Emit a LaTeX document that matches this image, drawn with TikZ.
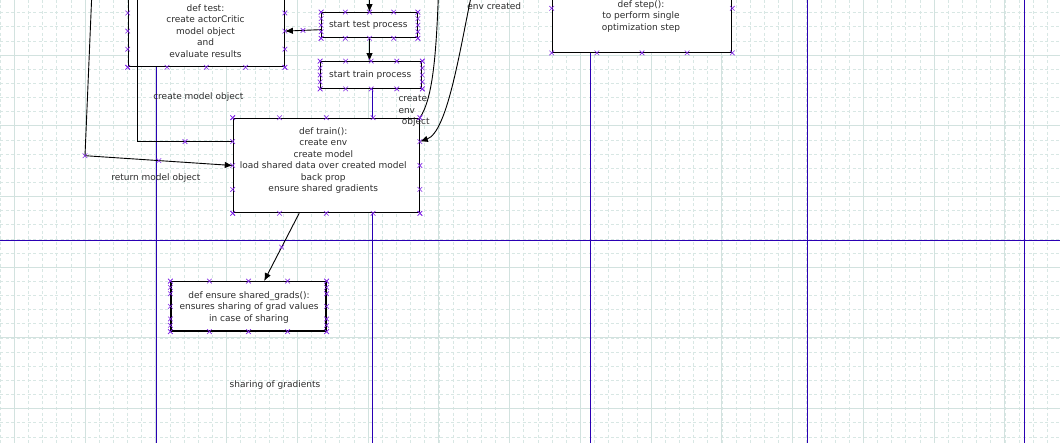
\documentclass[tikz,border=0pt]{standalone}
\usepackage{fontspec}
\setmainfont{DejaVu Sans}
\usetikzlibrary{arrows.meta,calc}
\definecolor{gridmaj}{RGB}{210,226,223}
\definecolor{gridmin}{RGB}{216,231,228}
\definecolor{life}{RGB}{42,0,180}
\definecolor{cp}{RGB}{130,40,230}
\definecolor{ink}{RGB}{45,45,45}

% connection-point marks along one edge (quarter points)
\newcommand\edgemarks[2]{\foreach \t in {0,0.25,0.5,0.75,1}{\pic at ($(#1)!\t!(#2)$) {cpmark};}}

\begin{document}
\begin{tikzpicture}[x=1pt,y=-1pt,
  box/.style={draw=black,fill=white,line width=1.2pt,inner sep=0pt},
  txt/.style={font=\fontsize{9}{11.4}\selectfont,text=ink,align=center,inner sep=0pt},
  conn/.style={black,line width=0.9pt},
  arr/.style={conn,-{Latex[length=8pt,width=6.5pt]}},
  lifeline/.style={draw=life,line width=1pt},
  gmaj/.style={draw=gridmaj,line width=0.8pt},
  gmin/.style={draw=gridmin,line width=0.6pt,dash pattern=on 3pt off 2.5pt},
  cpmark/.pic={\draw[cp,line width=0.6pt] (-2.3,-2.3)--(2.3,2.3) (-2.3,2.3)--(2.3,-2.3);}
]
\useasboundingbox (0,0) rectangle (1060,443);
\fill[white] (0,0) rectangle (1060,443);

% background grid
\foreach \i in {-1,...,75} \draw[gmin] ({14.3+14.15*\i},0) -- ++(0,443);
\foreach \j in {-1,...,31} \draw[gmin] (0,{12.6+14.14*\j}) -- ++(1060,0);
\foreach \i in {0,...,15} \draw[gmaj] ({14.3+70.75*\i},0) -- ++(0,443);
\foreach \j in {-1,...,6} \draw[gmaj] (0,{55+70.7*\j}) -- ++(1060,0);

% box positions (drawn after the lifelines)
\path
  node[box,draw=none,fill=none,minimum width=156pt,minimum height=71.2pt] (test) at (206.3,31.1) {}
  node[box,draw=none,fill=none,minimum width=101pt,minimum height=26.6pt] (starttrain) at (371.2,75) {}
  node[box,draw=none,fill=none,minimum width=186pt,minimum height=94.4pt] (train) at (326.3,165.5) {}
  node[box,draw=none,fill=none,minimum width=179.4pt,minimum height=88pt] (step) at (642,8.3) {};

% lifelines and lane borders
\coordinate (l1) at (156.5,443);
\coordinate (l2) at (372.5,443);
\coordinate (l3) at (590.5,443);
\coordinate (l4t) at (807.2,0);
\coordinate (l4b) at (807.2,443);
\coordinate (l5t) at (1024.5,0);
\coordinate (l5b) at (1024.5,443);
\coordinate (hl) at (0,240.5);
\coordinate (hr) at (1060,240.5);
\draw[lifeline] (l4t) -- (l4b);
\draw[lifeline] (l5t) -- (l5b);
\draw[lifeline] (hl) -- (hr);
\draw[lifeline] (test.south -| l1) -- (l1);
\draw[lifeline] (step.south -| l3) -- (l3);
\draw[lifeline] (starttrain.south -| l2) -- (l2);

% boxes
\node[box,minimum width=156pt,minimum height=71.2pt] (testbox) at (test) {};
\node[box,minimum width=95.6pt,minimum height=25pt] (starttest) at (369.5,25.2) {};
\node[box,minimum width=101pt,minimum height=26.6pt] (starttrainbox) at (starttrain) {};
\node[box,minimum width=186pt,minimum height=94.4pt] (trainbox) at (train) {};
\node[box,minimum width=179.4pt,minimum height=88pt] (stepbox) at (step) {};
\node[box,minimum width=155pt,minimum height=49.3pt] (ensure) at (248.5,306.35) {};

% box texts
\node[txt] (testtxt) at (205.5,31) {def test:\\create actorCritic\\model object\\and\\evaluate results};
\node[txt] (starttesttxt) at (368.3,25) {start test process};
\node[txt] (starttraintxt) at (370.2,75) {start train process};
\node[txt] (traintxt) at (323.3,160.5) {def train():\\create env\\create model\\load shared data over created model\\back prop\\ensure shared gradients};
\node[txt] (steptxt) at (641,16.5) {def step():\\to perform single\\optimization step};
\node[txt] (ensuretxt) at (249,307.4) {def ensure shared\_grads():\\ensures sharing of grad values\\in case of sharing};

% connector labels
\node[txt] (lblcreate) at (198.3,96.7) {create model object};
\node[txt] (lblreturn) at (155.8,177.7) {return model object};
\node[txt] (lblenvcr) at (494.2,5.7) {env created};
\node[txt] (lblshare) at (275,384.7) {sharing of gradients};
\node[txt,align=left,anchor=west] (lblenv) at (398.3,110.9) {create\\env\\\hspace*{3.3pt}object};

% connectors
\coordinate (p0) at (91.7,-3);
\coordinate (p1) at (85,155.7);
\draw[arr] (p0) -- (p1) -- (train.west);
\coordinate (q0) at (137.3,-3);
\coordinate (trainw1) at ($(train.north west)!0.25!(train.south west)$);
\draw[conn] (q0) |- (trainw1);
\coordinate (stw) at ($(starttest.north west)!0.67!(starttest.south west)$);
\draw[arr] (stw) -- (test.east);
\coordinate (r0) at (369.5,-3);
\draw[arr] (r0) -- (starttest.north);
\draw[arr] (starttest.south) -- (starttest.south |- starttrain.north);
\coordinate (s0) at (438.3,-3);
\draw[conn] (s0) .. controls (436,60) and (432,100) .. (train.north east);
\coordinate (u0) at (471,-3);
\coordinate (traine1) at ($(train.north east)!0.25!(train.south east)$);
\draw[arr] (u0) .. controls (459,55) and (447,132) .. (traine1);
\coordinate (trs) at ($(train.south west)!0.355!(train.south east)$);
\coordinate (enn) at ($(ensure.north west)!0.6!(ensure.north east)$);
\draw[arr] (trs) -- (enn);

% connection points
\edgemarks{test.north west}{test.south west}
\edgemarks{test.north east}{test.south east}
\edgemarks{test.south west}{test.south east}
\foreach \n in {starttest,starttrain,train,ensure}{
  \edgemarks{\n.north west}{\n.north east}
  \edgemarks{\n.south west}{\n.south east}
  \edgemarks{\n.north west}{\n.south west}
  \edgemarks{\n.north east}{\n.south east}
}
\pic at (step.west) {cpmark};
\pic at (step.east) {cpmark};
\edgemarks{step.south west}{step.south east}
\pic at ($(ensure.north west)!0.125!(ensure.south west)$) {cpmark};
\pic at ($(ensure.north west)!0.875!(ensure.south west)$) {cpmark};
\pic at ($(ensure.north east)!0.125!(ensure.south east)$) {cpmark};
\pic at ($(ensure.north east)!0.875!(ensure.south east)$) {cpmark};
\pic at (p1) {cpmark};
\pic at ($(p1)!0.5!(train.west)$) {cpmark};
\pic at ($(q0 |- trainw1)!0.5!(trainw1)$) {cpmark};
\pic at ($(trs)!0.5!(enn)$) {cpmark};
\pic at ($(stw)!0.5!(test.east)$) {cpmark};
\end{tikzpicture}
\end{document}
